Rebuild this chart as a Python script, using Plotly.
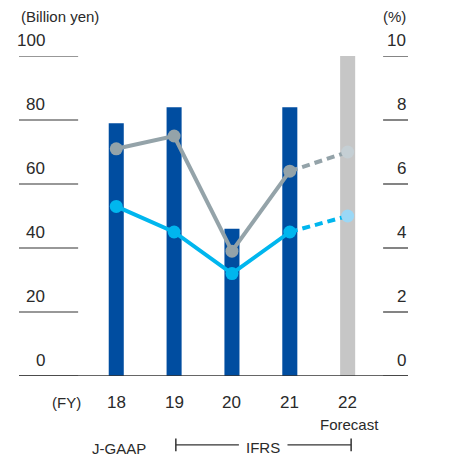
import plotly.graph_objects as go

years = ["18", "19", "20", "21", "22"]
sales = [79, 84, 46, 84, 100]          # bars, billion yen
ratio_gray = [7.1, 7.5, 3.9, 6.4, 7.0]  # %
ratio_blue = [5.3, 4.5, 3.2, 4.5, 5.0]  # %
left_ticks = [0, 20, 40, 60, 80, 100]
right_ticks = [0, 2, 4, 6, 8, 10]

FONT = "Liberation Sans"
TXT = "#2a2a2a"
DARK_BLUE = "#004da0"
FC_GRAY = "#c6c6c6"
LINE_GRAY = "#94a3a9"
LINE_BLUE = "#00b6ee"

xs = list(range(len(years)))
n_act = 4

fig = go.Figure()

fig.add_trace(go.Bar(
    x=xs, y=sales, width=0.26,
    marker=dict(color=[DARK_BLUE] * n_act + [FC_GRAY], line_width=0),
    hoverinfo="skip",
))

for vals, col, light in [(ratio_gray, LINE_GRAY, "#c5cfd4"), (ratio_blue, LINE_BLUE, "#9bd8f6")]:
    # dashed forecast segment
    fig.add_trace(go.Scatter(
        x=xs[n_act - 1:], y=vals[n_act - 1:], yaxis="y2", mode="lines",
        line=dict(color=col, width=4, dash="8px,5px"), hoverinfo="skip",
    ))
    fig.add_trace(go.Scatter(
        x=xs[:n_act], y=vals[:n_act], yaxis="y2", mode="lines+markers",
        line=dict(color=col, width=4), marker=dict(size=13, color=col),
        hoverinfo="skip",
    ))
    fig.add_trace(go.Scatter(
        x=xs[n_act:], y=vals[n_act:], yaxis="y2", mode="markers",
        marker=dict(size=13, color=light), hoverinfo="skip",
    ))

shapes = []
annotations = []
for v in left_ticks:
    shapes.append(dict(type="line", xref="paper", yref="y", x0=0, x1=0.152, y0=v, y1=v,
                       line=dict(color="#333333", width=1.2)))
    annotations.append(dict(xref="paper", yref="y", x=0.072, y=v, text=str(v),
                            xanchor="right", yanchor="bottom", yshift=4, showarrow=False,
                            font=dict(size=17, color=TXT, family=FONT)))
for v in right_ticks:
    shapes.append(dict(type="line", xref="paper", yref="y2", x0=0.936, x1=1, y0=v, y1=v,
                       line=dict(color="#333333", width=1.2)))
    annotations.append(dict(xref="paper", yref="y2", x=1, y=v, text=str(v),
                            xanchor="right", yanchor="bottom", yshift=4, showarrow=False,
                            font=dict(size=17, color=TXT, family=FONT)))
shapes.append(dict(type="line", xref="paper", yref="y", x0=0, x1=1, y0=0, y1=0,
                   line=dict(color="#333333", width=1.5)))

for x, t in zip(xs, years):
    annotations.append(dict(xref="x", yref="paper", x=x, y=-0.048, text=t, yanchor="top",
                            showarrow=False, font=dict(size=17, color=TXT, family=FONT)))
annotations += [
    dict(xref="x", yref="paper", x=-0.86, y=-0.05, text="(FY)", yanchor="top",
         showarrow=False, font=dict(size=15, color=TXT, family=FONT)),
    dict(xref="x", yref="paper", x=4.04, y=-0.12, text="Forecast", yanchor="top",
         showarrow=False, font=dict(size=15, color=TXT, family=FONT)),
    dict(xref="x", yref="paper", x=0.04, y=-0.226, text="J-GAAP", yanchor="middle",
         showarrow=False, font=dict(size=15, color=TXT, family=FONT)),
    dict(xref="x", yref="paper", x=2.54, y=-0.224, text="IFRS", yanchor="middle",
         showarrow=False, font=dict(size=15, color=TXT, family=FONT)),
    dict(xref="paper", yref="paper", x=0, y=1.122, text="(Billion yen)", xanchor="left",
         yanchor="middle", showarrow=False, font=dict(size=15, color=TXT, family=FONT)),
    dict(xref="paper", yref="paper", x=1, y=1.122, text="(%)", xanchor="right",
         yanchor="middle", showarrow=False, font=dict(size=15, color=TXT, family=FONT)),
]
# IFRS bracket
by = -0.215
for x0, x1 in [(1.03, 2.12), (2.96, 4.06)]:
    shapes.append(dict(type="line", xref="x", yref="paper", x0=x0, x1=x1, y0=by, y1=by,
                       line=dict(color="#333333", width=1.2)))
for xe in [1.03, 4.06]:
    shapes.append(dict(type="line", xref="x", yref="paper", x0=xe, x1=xe, y0=by - 0.02, y1=by + 0.02,
                       line=dict(color="#333333", width=1.5)))

# page body has an 8px margin, so margins are offset by it
fig.update_layout(
    width=465, height=456,
    margin=dict(l=11, r=65, t=48, b=88),
    plot_bgcolor="white", paper_bgcolor="white",
    showlegend=False,
    xaxis=dict(range=[-1.681, 5.043], showgrid=False, zeroline=False, showticklabels=False,
               ticks="", fixedrange=True),
    yaxis=dict(range=[0, 100], showgrid=False, zeroline=False, showticklabels=False, ticks=""),
    yaxis2=dict(range=[0, 10], overlaying="y", side="right", showgrid=False, zeroline=False,
                showticklabels=False, ticks=""),
    shapes=shapes,
    annotations=annotations,
)

fig.write_html("out.html")
